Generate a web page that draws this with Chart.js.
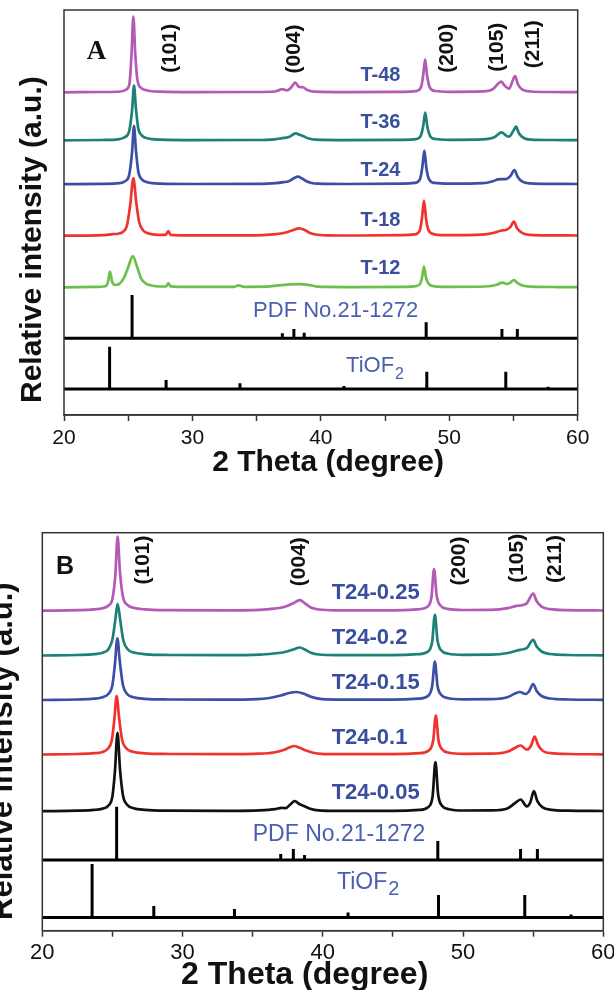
<!DOCTYPE html>
<html>
<head>
<meta charset="utf-8">
<script src="https://cdn.jsdelivr.net/npm/chart.js@4.4.0/dist/chart.umd.min.js"></script>
<style>
  html, body { margin: 0; padding: 0; background: #fff; overflow: hidden; }
  body { width: 614px; height: 990px; position: relative; }
  #chartA { position: absolute; left: 0; top: 0; }
  #chartB { position: absolute; left: 0; top: 490px; }
</style>
</head>
<body>
<canvas id="chartA" width="614" height="480"></canvas>
<canvas id="chartB" width="640" height="520"></canvas>
<script>
// x axis
const xTickLabels = [20, 30, 40, 50, 60];

// reference patterns (stick positions, 2 theta)
const pdfPos = [25.3, 37.0, 37.9, 38.7, 48.2, 54.1, 55.3];
const tiofPos = [20.5, 23.55, 25.2, 26.4, 27.95, 33.7, 38.6, 41.8, 48.25, 54.4, 57.7];
const pdfHeightsA = [43.3, 5, 9.3, 5.6, 16, 9.3, 9.3];
const tiofHeightsA = [1.3, 42.3, 1, 1, 9, 5.7, 1, 3, 17.3, 17.3, 2.3];
const pdfHeightsB = [53.3, 6, 11, 5, 19, 11, 11];
const tiofHeightsB = [1.5, 53.5, 1.5, 1.5, 11.5, 8.5, 1.5, 5, 22.5, 22.5, 3];

// panel A series: [2theta, intensity above own baseline]
const seriesA = ['T-48', 'T-36', 'T-24', 'T-18', 'T-12'];
const offsetsA = [322.7, 274.7, 230.8, 179.3, 127.7];
const t48 = [[20,0],[23,0.3],[24.4,0.8],[24.85,2.8],[25.1,9],[25.25,36],[25.4,75.6],[25.55,38],[25.72,12],[26.0,4.5],[26.5,1.8],[27.5,0.6],[30,0.2],[35,0.3],[36.4,0.8],[36.8,2.4],[37.0,3.2],[37.35,1.8],[37.7,5],[38.0,9.7],[38.28,5.6],[38.6,5],[38.95,2.3],[39.5,0.6],[42,0.2],[46.5,0.5],[47.4,1.2],[47.8,5],[47.97,17],[48.12,33],[48.28,16],[48.48,5],[48.9,1.3],[50,0.5],[52.6,0.9],[53.4,3.2],[53.8,8.5],[54.03,10.6],[54.35,6.2],[54.66,3.6],[54.92,11],[55.12,16.3],[55.35,8],[55.7,2.6],[56.3,0.8],[58,0.3],[60,0.2]];
const t36 = [[20,0],[23,0.3],[24.2,1],[24.7,3],[25.05,8],[25.3,30],[25.45,54.6],[25.6,32],[25.78,12],[26.05,5],[26.5,2],[27.5,0.6],[30,0.2],[35,0.3],[36.4,1],[37.0,2.2],[37.5,3.2],[37.8,5.5],[38.05,7],[38.35,5.5],[38.65,4],[39.0,2],[39.6,0.6],[42,0.2],[46.5,0.5],[47.4,1.2],[47.8,5],[47.98,15],[48.13,27.6],[48.3,13],[48.5,4.5],[48.9,1.3],[50,0.5],[52.6,0.9],[53.5,3],[53.85,6.5],[54.08,8],[54.4,5],[54.65,3.6],[54.97,9],[55.2,13.6],[55.42,7],[55.8,2.3],[56.4,0.7],[58,0.3],[60,0.2]];
const t24 = [[20,0],[23,0.3],[24.3,1],[24.75,3],[25.07,9],[25.3,32],[25.45,58.2],[25.6,34],[25.78,13],[26.05,5],[26.5,2],[27.5,0.6],[30,0.2],[35,0.3],[36.5,1],[37.1,2],[37.5,3],[37.9,6],[38.2,7.5],[38.5,6],[38.8,3.5],[39.2,1.5],[39.8,0.5],[42,0.2],[46.4,0.5],[47.3,1.3],[47.72,5],[47.9,17],[48.06,33.5],[48.22,16],[48.42,5],[48.85,1.3],[50,0.5],[52.6,1],[53.4,3],[53.8,4.8],[54.1,5],[54.4,5],[54.75,8],[55.08,14.2],[55.32,7.5],[55.7,2.5],[56.3,0.8],[58,0.3],[60,0.2]];
const t18 = [[20,0],[22.5,0.3],[23.5,1],[23.8,1.6],[24.2,2],[24.6,4],[24.9,10],[25.15,30],[25.4,57.4],[25.62,34],[25.85,14],[26.15,5.5],[26.6,2.2],[27.3,0.9],[27.9,0.8],[28.12,4.5],[28.3,0.8],[29,0.4],[32,0.3],[35.5,0.6],[36.5,1.5],[37.2,3],[37.8,5.5],[38.3,7.4],[38.7,6],[39.1,3],[39.6,1.2],[40.5,0.4],[43,0.2],[46.4,0.5],[47.3,1.3],[47.7,5],[47.88,18],[48.03,35],[48.2,16],[48.4,5],[48.85,1.4],[50,0.5],[52.5,1],[53.5,3],[54.0,5],[54.4,5.7],[54.75,8.5],[55.03,14],[55.28,7.5],[55.7,2.5],[56.3,0.8],[58,0.3],[60,0.2]];
const t12 = [[20,0],[22.5,0.4],[23.2,1],[23.42,5],[23.58,15.6],[23.75,5.5],[23.97,2.3],[24.3,3.5],[24.65,9],[25.0,20],[25.35,31.3],[25.7,20],[26.0,9],[26.35,4],[26.8,1.8],[27.5,0.8],[27.95,1],[28.12,4],[28.3,1],[29,0.5],[33.2,0.4],[33.6,2],[34.0,0.5],[35.8,0.6],[36.7,2],[37.6,3],[38.3,3.2],[39.0,2.5],[39.6,1],[40.5,0.4],[43,0.2],[46.5,0.5],[47.4,1.2],[47.75,4],[47.9,11],[48.03,20.6],[48.18,10],[48.4,3.5],[48.85,1],[50,0.5],[52.8,0.8],[53.7,2.5],[54.13,4.6],[54.5,3.3],[54.78,5],[55.03,7.3],[55.3,4.5],[55.7,1.8],[56.3,0.6],[58,0.3],[60,0.2]];

// panel B series
const seriesB = ['T24-0.25', 'T24-0.2', 'T24-0.15', 'T24-0.1', 'T24-0.05'];
const offsetsB = [320, 275.2, 230.7, 176.2, 119.5];
const b25 = [[20,0],[22.5,0.5],[23.7,1.3],[24.3,2.5],[24.7,5],[25.0,12],[25.2,34],[25.37,74],[25.54,38],[25.75,14],[26.05,6],[26.5,3],[27.3,1.3],[29,0.5],[33,0.3],[35.5,0.8],[36.5,2],[37.3,4],[37.9,7.5],[38.35,10.5],[38.75,7],[39.15,3.2],[39.7,1.2],[41,0.4],[45,0.4],[46.7,1.3],[47.45,4],[47.75,14],[47.93,41.7],[48.12,15],[48.4,5],[48.9,1.8],[50,0.7],[52,0.8],[53.2,2.5],[53.8,4.8],[54.2,5.5],[54.55,7.5],[55.0,17],[55.25,9.5],[55.6,4],[56.2,1.5],[57.5,0.5],[60,0.2]];
const b20 = [[20,0],[22.5,0.5],[23.7,1.3],[24.3,2.8],[24.7,6],[25.0,16],[25.2,35],[25.37,51.7],[25.56,35],[25.78,15],[26.1,6],[26.6,2.8],[27.4,1.2],[29,0.5],[33,0.3],[35.5,0.8],[36.5,2],[37.3,3.5],[37.9,6],[38.35,8],[38.75,5.8],[39.15,2.8],[39.7,1],[41,0.4],[45,0.4],[46.8,1.3],[47.5,4],[47.8,14],[47.99,40.7],[48.18,15],[48.45,5],[48.95,1.8],[50,0.7],[52,0.8],[53.2,2.5],[53.8,4.8],[54.2,6],[54.55,7.5],[55.0,15.7],[55.25,9],[55.6,4],[56.2,1.5],[57.5,0.5],[60,0.2]];
const b15 = [[20,0],[22.5,0.5],[23.7,1.3],[24.3,2.8],[24.7,6],[25.0,15],[25.18,36],[25.35,61.7],[25.53,38],[25.75,15],[26.05,6],[26.5,2.8],[27.3,1.2],[29,0.5],[33,0.3],[35.3,0.8],[36.2,2],[37.0,4.5],[37.6,7],[38.1,8],[38.6,6.5],[39.1,3.5],[39.7,1.3],[41,0.4],[45,0.4],[46.8,1.3],[47.5,4],[47.8,14],[47.99,38.3],[48.18,14],[48.45,5],[48.95,1.8],[50,0.7],[52,0.8],[53.2,3],[53.7,6.5],[54.05,8],[54.45,6],[54.7,8.5],[55.0,16],[55.25,9],[55.6,4],[56.2,1.5],[57.5,0.5],[60,0.2]];
const b10 = [[20,0],[22.5,0.5],[23.7,1.3],[24.3,2.6],[24.65,5.5],[24.95,14],[25.13,34],[25.3,58.3],[25.48,36],[25.7,14],[26.0,6],[26.45,2.8],[27.3,1.2],[29,0.5],[33,0.3],[35.5,0.8],[36.5,2],[37.2,4.5],[37.7,7.5],[37.96,8.5],[38.3,7],[38.8,4],[39.3,1.8],[39.9,0.6],[41,0.3],[45,0.4],[46.9,1.3],[47.55,4],[47.87,14],[48.06,39],[48.25,14],[48.52,5],[49.0,1.8],[50,0.7],[52,0.8],[53.2,3],[53.75,7],[54.1,9],[54.55,4.8],[54.85,9],[55.1,18],[55.35,9.5],[55.7,3.5],[56.3,1.3],[57.5,0.5],[60,0.2]];
const b05 = [[20,0],[22.5,0.5],[23.7,1.3],[24.3,2.6],[24.7,5.5],[25.0,15],[25.18,40],[25.36,78.4],[25.54,42],[25.75,16],[26.05,6.5],[26.5,3],[27.3,1.3],[29,0.5],[33,0.3],[35.5,0.8],[36.6,2],[37.06,3.4],[37.35,3],[37.7,7],[38.0,10],[38.35,7],[38.7,5],[39.1,2.5],[39.7,0.8],[41,0.3],[45,0.4],[46.9,1.3],[47.5,4],[47.83,15],[48.03,49],[48.22,17],[48.5,5.5],[49.0,2],[50,0.7],[52,0.8],[53.2,3],[53.7,8],[54.1,11.7],[54.55,4.8],[54.8,9],[55.05,20],[55.3,10],[55.65,4],[56.3,1.3],[57.5,0.5],[60,0.2]];

const sans = "'Liberation Sans', Arial, sans-serif";
const labelBlue = '#3a4ea0';
const pdfBlue = '#4a5fb3';
const colorsA = ['#b25ab4', '#1d8178', '#3b4fa6', '#f0332f', '#6cbf4c'];
const colorsB = ['#b25ab4', '#1d8178', '#3b4fa6', '#f0332f', '#111111'];

function stickSet(label, pos, heights, base) {
  const pts = [{x: 20, y: base}];
  pos.forEach((p, i) => {
    pts.push({x: p, y: base}, {x: p, y: base + heights[i]}, {x: p, y: base});
  });
  pts.push({x: 60, y: base});
  return {label, data: pts, borderColor: '#000', borderWidth: 3, pointRadius: 0,
          tension: 0, borderJoinStyle: 'bevel', fill: false};
}

function textPlugin(items) {
  return {
    id: 'panelText',
    afterDraw(chart) {
      const {ctx, chartArea: a, scales: {x, y}} = chart;
      ctx.save();
      ctx.strokeStyle = '#333';
      ctx.lineWidth = 1.5;
      ctx.strokeRect(a.left, a.top, a.right - a.left, a.bottom - a.top);
      items.forEach(t => {
        ctx.save();
        ctx.translate(x.getPixelForValue(t.x), y.getPixelForValue(t.y));
        if (t.rotate) ctx.rotate(-Math.PI / 2);
        ctx.font = t.font;
        ctx.fillStyle = t.color || '#111';
        ctx.textAlign = t.align || 'center';
        ctx.textBaseline = t.baseline || 'middle';
        ctx.fillText(t.text, 0, 0);
        if (t.sub) {
          const w = ctx.measureText(t.text).width;
          ctx.font = t.subFont;
          ctx.textAlign = 'left';
          ctx.fillText(t.sub, w + 1, t.subDy);
        }
        ctx.restore();
      });
      ctx.restore();
    }
  };
}

function buildChart(id, p) {
  const datasets = p.traces.map((pts, i) => ({
    label: p.names[i],
    data: pts.map(([x, h]) => ({x, y: h + p.offsets[i]})),
    borderColor: p.colors[i],
    borderWidth: 2.7,
    pointRadius: 0,
    cubicInterpolationMode: 'monotone',
    fill: false
  }));
  datasets.push(stickSet('PDF No.21-1272', pdfPos, p.pdfHeights, p.pdfBase));
  datasets.push(stickSet('TiOF2', tiofPos, p.tiofHeights, p.tiofBase));

  return new Chart(document.getElementById(id), {
    type: 'line',
    data: {datasets},
    options: {
      responsive: false,
      animation: false,
      layout: {padding: p.padding},
      plugins: {legend: {display: false}, tooltip: {enabled: false}},
      scales: {
        x: {
          type: 'linear', min: 20, max: 60,
          afterFit: s => { s.height = p.axisHeight; },
          border: {display: true, color: '#333', width: 1.5},
          grid: {drawOnChartArea: false, drawTicks: true, tickLength: 6, tickWidth: 1.5, tickColor: '#333'},
          ticks: {
            stepSize: 5, autoSkip: false, maxRotation: 0, padding: p.tickPad, color: '#111',
            font: {family: sans, size: p.tickSize},
            callback: v => xTickLabels.includes(v) ? String(v) : ''
          }
        },
        y: {display: false, min: 0, max: p.yMax}
      }
    },
    plugins: [textPlugin(p.texts)]
  });
}

const bold = s => `bold ${s}px ${sans}`;
const reg = s => `${s}px ${sans}`;

buildChart('chartA', {
  names: seriesA, offsets: offsetsA, colors: colorsA,
  traces: [t48, t36, t24, t18, t12],
  pdfHeights: pdfHeightsA, pdfBase: 76.7, tiofHeights: tiofHeightsA, tiofBase: 26,
  padding: {top: 10, left: 64, right: 36.3, bottom: 0},
  axisHeight: 65, tickPad: 5, tickSize: 21, yMax: 405,
  texts: [
    {text: 'A', x: 22.53, y: 363, font: "bold 27px 'Liberation Serif', 'Times New Roman', serif"},
    {text: 'T-48', x: 46.2, y: 339.2, align: 'right', font: bold(20), color: labelBlue},
    {text: 'T-36', x: 46.2, y: 292.5, align: 'right', font: bold(20), color: labelBlue},
    {text: 'T-24', x: 46.2, y: 244.7, align: 'right', font: bold(20), color: labelBlue},
    {text: 'T-18', x: 46.2, y: 194.2, align: 'right', font: bold(20), color: labelBlue},
    {text: 'T-12', x: 46.2, y: 146.8, align: 'right', font: bold(20), color: labelBlue},
    {text: '(101)', x: 28.26, y: 366.7, rotate: true, font: bold(21)},
    {text: '(004)', x: 37.91, y: 366, rotate: true, font: bold(21)},
    {text: '(200)', x: 49.86, y: 366.7, rotate: true, font: bold(21)},
    {text: '(105)', x: 53.75, y: 367.8, rotate: true, font: bold(21)},
    {text: '(211)', x: 56.52, y: 370.8, rotate: true, font: bold(21)},
    {text: 'PDF No.21-1272', x: 41.15, y: 104.5, font: reg(22), color: pdfBlue},
    {text: 'TiOF', sub: '2', x: 41.96, y: 49.3, align: 'left', font: reg(22), subFont: reg(16), subDy: 9, color: pdfBlue},
    {text: '2 Theta (degree)', x: 40.56, y: -48, font: bold(30)},
    {text: 'Relative intensity (a.u.)', x: 18.21, y: 12, rotate: true, align: 'left', baseline: 'alphabetic', font: bold(30)}
  ]
});

buildChart('chartB', {
  names: seriesB, offsets: offsetsB, colors: colorsB,
  traces: [b25, b20, b15, b10, b05],
  pdfHeights: pdfHeightsB, pdfBase: 70.7, tiofHeights: tiofHeightsB, tiofBase: 13.2,
  padding: {top: 42.7, left: 42.3, right: 36.7, bottom: 0},
  axisHeight: 79.3, tickPad: 3, tickSize: 22, yMax: 398,
  texts: [
    {text: 'B', x: 21.62, y: 364, font: bold(25)},
    {text: 'T24-0.25', x: 40.63, y: 338.2, align: 'left', font: bold(22), color: labelBlue},
    {text: 'T24-0.2', x: 40.63, y: 293.2, align: 'left', font: bold(22), color: labelBlue},
    {text: 'T24-0.15', x: 40.63, y: 248.2, align: 'left', font: bold(22), color: labelBlue},
    {text: 'T24-0.1', x: 40.63, y: 193.2, align: 'left', font: bold(22), color: labelBlue},
    {text: 'T24-0.05', x: 40.63, y: 138.2, align: 'left', font: bold(22), color: labelBlue},
    {text: '(101)', x: 27.2, y: 370.7, rotate: true, font: bold(21)},
    {text: '(004)', x: 38.3, y: 369, rotate: true, font: bold(21)},
    {text: '(200)', x: 49.71, y: 369.7, rotate: true, font: bold(21)},
    {text: '(105)', x: 53.83, y: 372.4, rotate: true, font: bold(21)},
    {text: '(211)', x: 56.56, y: 371.7, rotate: true, font: bold(21)},
    {text: 'PDF No.21-1272', x: 41.16, y: 95.7, font: reg(23), color: pdfBlue},
    {text: 'TiOF', sub: '2', x: 41.01, y: 48.2, align: 'left', font: reg(23), subFont: reg(20), subDy: 7, color: pdfBlue},
    {text: '2 Theta (degree)', x: 38.71, y: -44.3, font: bold(32)},
    {text: 'Relative intensity (a.u.)', x: 17.82, y: 10.7, rotate: true, align: 'left', baseline: 'alphabetic', font: bold(31)}
  ]
});
</script>
</body>
</html>
